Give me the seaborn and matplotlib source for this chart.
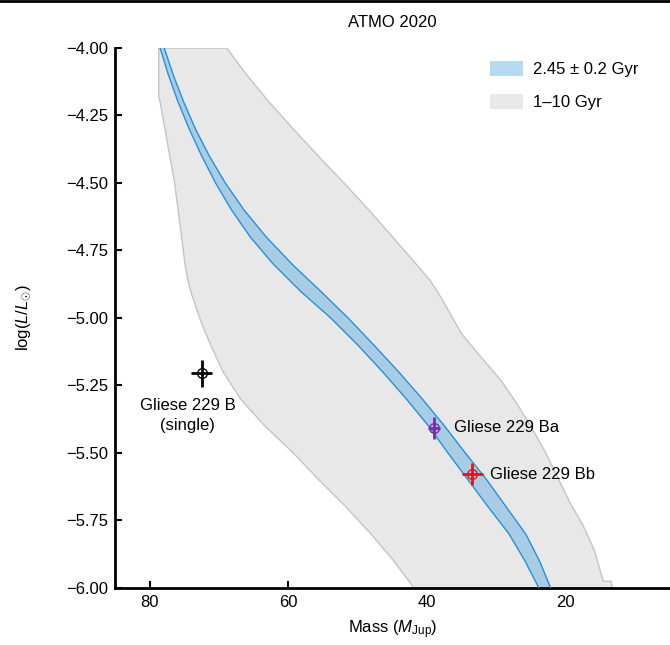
import matplotlib
matplotlib.use("Agg")
import matplotlib.pyplot as plt
from matplotlib.patches import Patch
from matplotlib.lines import Line2D
from matplotlib.ticker import FuncFormatter
import numpy as np
import seaborn as sns

# ATMO 2020 isochrones: log(L/Lsun) vs mass (M_Jup)
# 1-10 Gyr envelope, 10 Gyr side (high mass)
grey_hi_logl = [-4.00, -4.18, -4.20, -4.30, -4.40, -4.50, -4.60, -4.70, -4.80, -4.86,
                -4.90, -5.00, -5.04, -5.10, -5.20, -5.30, -5.40, -5.50, -5.60, -5.70,
                -5.80, -5.90, -6.00]
grey_hi_mass = [78.7, 78.7, 78.5, 77.8, 77.1, 76.4, 75.9, 75.4, 74.9, 74.5,
                74.1, 72.8, 72.2, 71.2, 69.4, 66.9, 63.4, 59.3, 55.6, 51.7,
                48.1, 44.8, 41.9]
# 1 Gyr side (low mass)
grey_lo_logl = [-4.00, -4.10, -4.20, -4.30, -4.40, -4.50, -4.60, -4.70, -4.80, -4.86,
                -4.92, -4.97, -5.06, -5.14, -5.23, -5.32, -5.40, -5.49, -5.59, -5.69,
                -5.77, -5.86, -5.95, -5.975, -5.975, -6.00]
grey_lo_mass = [68.9, 66.0, 62.8, 59.3, 55.7, 52.0, 48.4, 45.0, 41.6, 39.6,
                38.1, 37.0, 35.0, 32.4, 29.4, 27.0, 25.1, 23.1, 21.2, 19.3,
                17.5, 15.9, 14.9, 14.6, 13.5, 13.3]

# 2.45 +/- 0.2 Gyr band
band_logl = [-4.00, -4.10, -4.20, -4.30, -4.40, -4.50, -4.60, -4.70, -4.80, -4.90, -5.00,
             -5.10, -5.20, -5.30, -5.40, -5.50, -5.60, -5.70, -5.80, -5.90, -6.00]
band_hi_mass = [78.5, 77.3, 75.9, 74.3, 72.5, 70.5, 68.2, 65.5, 62.2, 58.3, 53.9,
                50.0, 46.4, 43.0, 39.8, 37.0, 34.1, 31.2, 28.2, 25.9, 23.9]
band_lo_mass = [77.9, 76.6, 75.1, 73.4, 71.4, 69.1, 66.4, 63.2, 59.5, 55.4, 51.4,
                47.7, 44.1, 40.7, 37.5, 34.5, 31.4, 28.6, 25.8, 23.8, 22.2]

# Gliese 229 B measurements
obj_names = ["Gliese 229 B\n(single)", "Gliese 229 Ba", "Gliese 229 Bb"]
obj_mass = [72.5, 39.0, 33.5]
obj_mass_err = [1.5, 0.9, 1.5]
obj_logl = [-5.205, -5.407, -5.578]
obj_logl_err = [0.05, 0.04, 0.04]
obj_colors = ["black", "#7d2aa8", "#ee1111"]

sns.set_theme(style="ticks")
plt.rcParams["font.family"] = ["Liberation Sans", "DejaVu Sans"]
plt.rcParams["mathtext.fontset"] = "custom"
plt.rcParams["mathtext.rm"] = "Liberation Sans"
plt.rcParams["mathtext.it"] = "Liberation Sans:italic"
plt.rcParams["font.size"] = 12
for k in ["text.color", "axes.labelcolor", "xtick.color", "ytick.color", "axes.edgecolor"]:
    plt.rcParams[k] = "black"

fig = plt.figure(figsize=(6.7, 6.45), dpi=100)
ax = fig.add_axes([0.1716, 0.0884, 0.8284, 0.8372])

# 1-10 Gyr envelope
poly_m = np.concatenate([grey_hi_mass, grey_lo_mass[::-1]])
poly_l = np.concatenate([grey_hi_logl, grey_lo_logl[::-1]])
ax.fill(poly_m, poly_l, facecolor="#e8e8e8", edgecolor="#c4c4c4", lw=1.0, zorder=1)

# 2.45 Gyr band
ax.fill_betweenx(band_logl, band_lo_mass, band_hi_mass,
                 facecolor="#4aa3df", alpha=0.4, lw=0, zorder=2)
sns.lineplot(x=band_hi_mass, y=band_logl, orient="y", estimator=None,
             color="#2590dc", lw=1.0, ax=ax, zorder=3)
sns.lineplot(x=band_lo_mass, y=band_logl, orient="y", estimator=None,
             color="#2590dc", lw=1.0, ax=ax, zorder=3)

for i in range(len(obj_names)):
    ax.errorbar(obj_mass[i], obj_logl[i], xerr=obj_mass_err[i], yerr=obj_logl_err[i],
                fmt="o", color=obj_colors[i], mfc="none", mec=obj_colors[i],
                ms=7, mew=1.0, elinewidth=2.0, capsize=0, zorder=5)

ax.annotate(obj_names[0], (obj_mass[0], obj_logl[0]), xytext=(-10, -18),
            textcoords="offset points", ha="center", va="top", fontsize=12,
            linespacing=1.35)
ax.annotate(obj_names[1], (obj_mass[1], obj_logl[1]), xytext=(14, 0),
            textcoords="offset points", ha="left", va="center", fontsize=12)
ax.annotate(obj_names[2], (obj_mass[2], obj_logl[2]), xytext=(13, 0),
            textcoords="offset points", ha="left", va="center", fontsize=12)

ax.set_xlim(85, 5)
ax.set_ylim(-6.0, -4.0)
ax.set_xticks([80, 60, 40, 20])
ax.set_yticks([-4.0, -4.25, -4.5, -4.75, -5.0, -5.25, -5.5, -5.75, -6.0])
ax.yaxis.set_major_formatter(FuncFormatter(lambda v, p: f"{v:.2f}".replace("-", "\u2212")))
ax.tick_params(direction="in", length=5, width=1.5, labelsize=12, pad=5, color="black")
for s in ["top", "right"]:
    ax.spines[s].set_visible(False)
for s in ["left", "bottom"]:
    ax.spines[s].set_linewidth(2.0)
    ax.spines[s].set_color("black")

ax.set_xlabel(r"Mass ($M_{\rm Jup}$)", fontsize=12, labelpad=6)
ax.set_ylabel(r"log($L/L_{\odot}$)", fontsize=12, labelpad=24)
ax.set_title("ATMO 2020", fontsize=12, pad=15)

handles = [Patch(facecolor="#4aa3df", alpha=0.4, lw=0),
           Patch(facecolor="#e8e8e8", lw=0)]
ax.legend(handles, ["2.45 \u00b1 0.2 Gyr", "1\u201310 Gyr"], loc="upper right",
          bbox_to_anchor=(0.97, 1.004), frameon=False, fontsize=12,
          handlelength=2.0, handleheight=1.0, labelspacing=1.0, handletextpad=0.6)

fig.add_artist(Line2D([0, 1], [0.998, 0.998], color="black", lw=2,
                      transform=fig.transFigure))

fig.savefig("out.png", dpi=100)
